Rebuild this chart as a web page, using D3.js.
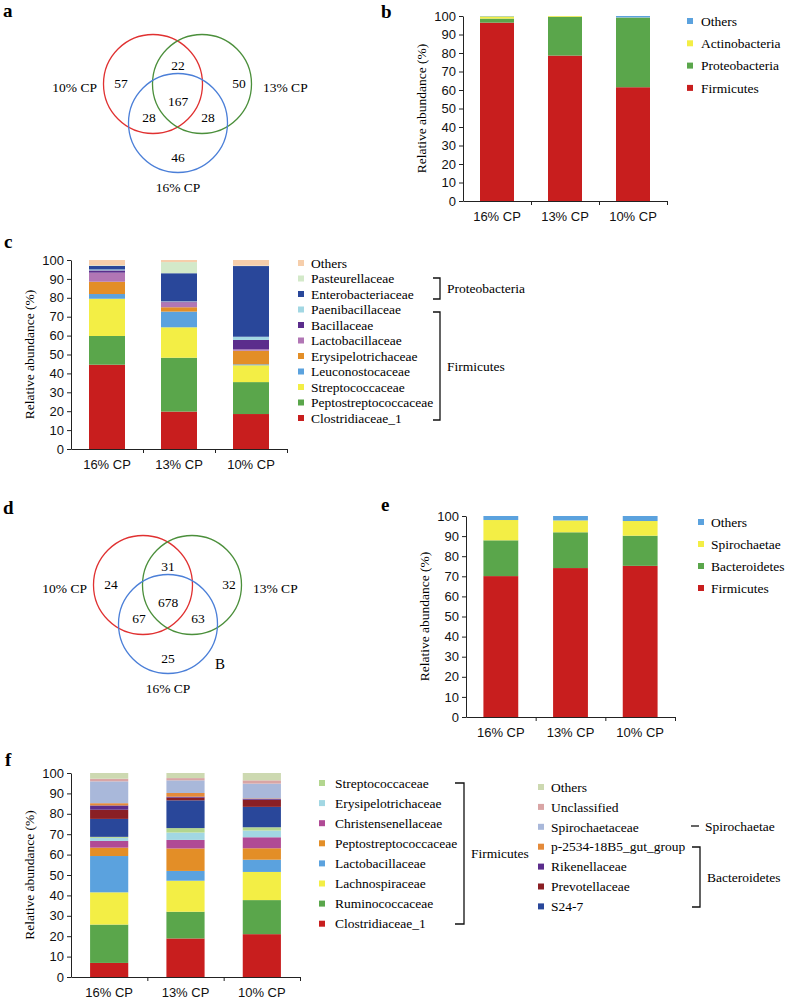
<!DOCTYPE html>
<html>
<head>
<meta charset="utf-8">
<script src="https://cdn.jsdelivr.net/npm/d3@7"></script>
<style>
  body { margin: 0; background: #fff; }
  svg { font-family: "Liberation Serif", "Times New Roman", serif; }
</style>
</head>
<body>
<div id="chart-area"></div>
<script>
const width = 787, height = 1001;

// ---- data ----
const groups = ["10% CP", "13% CP", "16% CP"];
const vennColors = ["#e03131", "#4b8f3b", "#4b7fd8"];
// counts: only10, only13, only16, 10&13, 10&16, 13&16, all
const vennA = [57, 50, 46, 22, 28, 28, 167];
const vennD = [24, 32, 25, 31, 67, 63, 678];

const cats = ["16% CP", "13% CP", "10% CP"];

const bNames = ["Firmicutes", "Proteobacteria", "Actinobacteria", "Others"];
const bValues = [[96.4, 78.6, 61.5], [2.2, 21.0, 37.6], [1.2, 0.4, 0.1], [0.2, 0, 0.8]];
const bColors = ["#c81e1e", "#5aa64b", "#f3ee45", "#5ba2de"];

const cNames = ["Clostridiaceae_1", "Peptostreptococcaceae", "Streptococcaceae", "Leuconostocaceae",
  "Erysipelotrichaceae", "Lactobacillaceae", "Bacillaceae", "Paenibacillaceae",
  "Enterobacteriaceae", "Pasteurellaceae", "Others"];
const cValues = [
  [44.6, 19.8, 18.5], [15.2, 28.5, 16.9], [19.7, 16.1, 8.9], [2.5, 8.3, 0.5],
  [6.5, 2.3, 7.2], [4.8, 2.6, 0.7], [1.2, 0.4, 5.0], [0.5, 0.2, 1.7],
  [1.9, 14.8, 37.4], [0.3, 5.9, 0.2], [2.8, 1.1, 3.0]];
const cColors = ["#c81e1e", "#5aa64b", "#f3ee45", "#5ba2de", "#e38e27", "#b176b5",
  "#5b2d8c", "#a2d7e3", "#29479a", "#d3e9c9", "#f6ceab"];

const eNames = ["Firmicutes", "Bacteroidetes", "Spirochaetae", "Others"];
const eValues = [[70.1, 74.1, 75.2], [17.8, 17.8, 15.0], [10.1, 5.9, 7.3], [2.0, 2.2, 2.5]];
const eColors = ["#c81e1e", "#5aa64b", "#f3ee45", "#5ba2de"];

const fNames = ["Clostridiaceae_1", "Ruminococcaceae", "Lachnospiraceae", "Lactobacillaceae",
  "Peptostreptococcaceae", "Christensenellaceae", "Erysipelotrichaceae", "Streptococcaceae",
  "S24-7", "Prevotellaceae", "Rikenellaceae", "p-2534-18B5_gut_group", "Spirochaetaceae",
  "Unclassified", "Others"];
const fValues = [
  [6.9, 18.9, 21.0], [18.8, 13.1, 16.7], [15.8, 15.2, 13.8], [17.8, 4.8, 6.0],
  [4.1, 11.0, 5.6], [3.3, 4.2, 5.4], [1.5, 3.6, 3.3], [0.5, 2.2, 1.6],
  [8.8, 13.6, 10.0], [4.5, 1.3, 3.5], [2.1, 0.5, 0.5], [1.1, 1.8, 0.2],
  [10.7, 6.2, 7.2], [1.3, 1.1, 1.6], [2.8, 2.5, 3.6]];
const fColors = ["#c81e1e", "#5aa64b", "#f3ee45", "#5ba2de", "#e38e27", "#b04a95", "#a2d7e3",
  "#b3d68f", "#29479a", "#8a1f24", "#5b2d8c", "#e48a3a", "#a9b8da", "#d9a5a5", "#cdd9b1"];

const svg = d3.select("#chart-area").append("svg")
  .attr("width", width).attr("height", height);

// panel letters
const letters = [["a", 3, 17], ["b", 381, 18], ["c", 4, 248], ["d", 3, 514], ["e", 381, 511], ["f", 5, 766]];
svg.selectAll("text.letter").data(letters).join("text")
  .attr("class", "letter")
  .attr("x", d => d[1]).attr("y", d => d[2])
  .attr("font-size", 19).attr("font-weight", "bold")
  .text(d => d[0]);

// ---- venn ----
function drawVenn(cx, cy, counts) {
  const g = svg.append("g").attr("transform", `translate(${cx},${cy})`);
  const centers = [[-25, -13], [24, -13], [0, 26]];
  g.selectAll("circle").data(centers).join("circle")
    .attr("cx", d => d[0]).attr("cy", d => d[1]).attr("r", 49.5)
    .attr("fill", "none").attr("stroke", (d, i) => vennColors[i]).attr("stroke-width", 1.3);
  const spots = [[-57, -14], [61, -14], [0, 60], [0, -32], [-29, 20], [30, 20], [0, 4]];
  g.selectAll("text.n").data(counts).join("text")
    .attr("class", "n")
    .attr("x", (d, i) => spots[i][0]).attr("y", (d, i) => spots[i][1])
    .attr("dy", "0.35em").attr("text-anchor", "middle").attr("font-size", 13.5)
    .text(d => d);
  const labelPos = [[-81, -10, "end"], [85, -10, "start"], [0, 90, "middle"]];
  g.selectAll("text.grp").data(groups).join("text")
    .attr("class", "grp")
    .attr("x", (d, i) => labelPos[i][0]).attr("y", (d, i) => labelPos[i][1])
    .attr("text-anchor", (d, i) => labelPos[i][2])
    .attr("dy", "0.35em").attr("font-size", 13.5)
    .text(d => d);
  return g;
}
drawVenn(178, 97, vennA);
drawVenn(168, 598, vennD)
  .append("text").attr("x", 47).attr("y", 66).attr("dy", "0.35em")
  .attr("font-size", 15).text("B");

// ---- stacked bars ----
function drawStack(p) {
  const g = svg.append("g");
  const rows = cats.map((c, i) => {
    const r = { cat: c };
    p.names.forEach((n, j) => r[n] = p.values[j][i]);
    return r;
  });
  const x = d3.scaleBand().domain(cats).range([p.x0, p.x1])
    .paddingInner(0.5).paddingOuter(0.25);
  const y = d3.scaleLinear().domain([0, 100]).range([p.yBottom, p.yTop]);
  const layers = d3.stack().keys(p.names)(rows);

  g.selectAll("g.layer").data(layers).join("g")
    .attr("class", "layer")
    .attr("fill", (d, i) => p.colors[i])
    .selectAll("rect").data(d => d).join("rect")
    .attr("x", d => x(d.data.cat)).attr("width", x.bandwidth())
    .attr("y", d => y(d[1])).attr("height", d => y(d[0]) - y(d[1]));

  g.append("g").attr("transform", `translate(${p.x0},0)`)
    .call(d3.axisLeft(y).tickValues(d3.range(0, 101, 10)).tickSize(4).tickSizeOuter(0).tickPadding(3));

  // category boundary ticks
  const xb = d3.scaleLinear().domain([0, cats.length]).range([p.x0, p.x1]);
  g.append("g").attr("transform", `translate(0,${p.yBottom})`)
    .call(d3.axisBottom(xb).tickValues(d3.range(1, cats.length + 1))
      .tickSize(4).tickSizeOuter(0).tickFormat(""));
  g.append("g").attr("transform", `translate(0,${p.yBottom})`)
    .call(d3.axisBottom(x).tickSize(0).tickPadding(11))
    .call(a => a.select(".domain").remove());

  g.selectAll(".tick text").attr("font-size", 13).attr("font-family", null).attr("fill", "#111");
  g.selectAll(".domain, .tick line").attr("stroke", "#222");

  g.append("text")
    .attr("transform", `translate(${p.x0 - 42},${(p.yTop + p.yBottom) / 2}) rotate(-90)`)
    .attr("text-anchor", "middle").attr("dy", "0.35em").attr("font-size", 13.5)
    .text("Relative abundance (%)");
}

function drawLegend(names, colors, sx, tx, y0, dy) {
  const g = svg.append("g");
  const items = names.map((n, i) => ({ n, c: colors[i] })).reverse();
  g.selectAll("rect").data(items).join("rect")
    .attr("x", sx).attr("y", (d, i) => y0 + i * dy - 3)
    .attr("width", 6).attr("height", 6).attr("fill", d => d.c);
  g.selectAll("text").data(items).join("text")
    .attr("x", tx).attr("y", (d, i) => y0 + i * dy)
    .attr("dy", "0.35em").attr("font-size", 13.5)
    .text(d => d.n);
}

function bracket(x, yA, yB, w, label) {
  svg.append("path")
    .attr("d", `M${x - w},${yA}H${x}V${yB}H${x - w}`)
    .attr("fill", "none").attr("stroke", "#111").attr("stroke-width", 1.3);
  svg.append("text").attr("x", x + 7).attr("y", (yA + yB) / 2)
    .attr("dy", "0.35em").attr("font-size", 13.5).text(label);
}

// b
drawStack({ x0: 463, x1: 667, yTop: 16, yBottom: 201, names: bNames, values: bValues, colors: bColors });
drawLegend(bNames, bColors, 687, 701, 21, 22.3);

// c
drawStack({ x0: 71, x1: 287, yTop: 260, yBottom: 449, names: cNames, values: cValues, colors: cColors });
drawLegend(cNames, cColors, 298, 311, 263, 15.5);
bracket(440, 278, 299, 7, "Proteobacteria");
bracket(440, 312, 420, 7, "Firmicutes");

// e
drawStack({ x0: 466, x1: 675, yTop: 516, yBottom: 717, names: eNames, values: eValues, colors: eColors });
drawLegend(eNames, eColors, 698, 711, 522, 22);

// f
drawStack({ x0: 71, x1: 300, yTop: 773, yBottom: 977, names: fNames, values: fValues, colors: fColors });
drawLegend(fNames.slice(0, 8), fColors.slice(0, 8), 319, 335, 783, 20.1);
drawLegend(fNames.slice(8), fColors.slice(8), 538, 551, 787, 19.9);
bracket(464, 783, 924, 9, "Firmicutes");
bracket(700, 847, 907, 8, "Bacteroidetes");
svg.append("path").attr("d", "M691,826H699").attr("stroke", "#111").attr("stroke-width", 1.3);
svg.append("text").attr("x", 705).attr("y", 826).attr("dy", "0.35em")
  .attr("font-size", 13.5).text("Spirochaetae");
</script>
</body>
</html>
